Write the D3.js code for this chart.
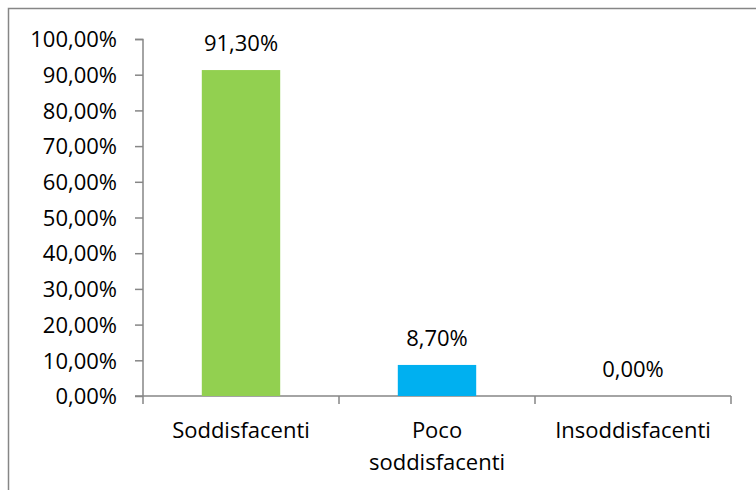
<!DOCTYPE html>
<html>
<head>
<meta charset="utf-8">
<script src="https://cdn.jsdelivr.net/npm/d3@7"></script>
<style>
  body { margin: 0; background: #fff; }
  text { font-family: "Open Sans", "Noto Sans", sans-serif; fill: #000; }
</style>
</head>
<body>
<div class="container"></div>
<script>
const WIDTH = 756;
const HEIGHT = 490;
const FONT = "22px";

var categories = [["Soddisfacenti"], ["Poco", "soddisfacenti"], ["Insoddisfacenti"]];
var values = [91.3, 8.7, 0];
var colors = ["#92D050", "#00B0F0", "#00B0F0"];
var yTicks = [0, 10, 20, 30, 40, 50, 60, 70, 80, 90, 100];

var fmt = function (v) {
    return v.toFixed(2).replace(".", ",") + "%";
};

var svg = d3.select(".container").append("svg")
    .attr("width", WIDTH)
    .attr("height", HEIGHT);

// chart border (only top & left visible in the crop)
svg.append("rect")
    .attr("x", 8.5).attr("y", 8.5)
    .attr("width", 800).attr("height", 600)
    .attr("fill", "none")
    .attr("stroke", "#868686")
    .attr("stroke-width", 1.5);

var xScale = d3.scaleBand()
    .domain(d3.range(categories.length))
    .range([143, 731])
    .paddingInner(0.6)
    .paddingOuter(0.3);

var yScale = d3.scaleLinear()
    .domain([0, 100])
    .range([396, 39]);

// y axis
var yAxis = d3.axisLeft(yScale)
    .tickValues(yTicks)
    .tickSize(8)
    .tickPadding(18)
    .tickFormat(fmt);

var gy = svg.append("g")
    .attr("transform", "translate(143,0)")
    .call(yAxis);
gy.selectAll("line, path").attr("stroke", "#868686").attr("stroke-width", 1.5);
gy.select(".domain").attr("d", "M-8,39.5H0V396");
gy.selectAll("text").style("font-size", FONT).attr("dy", "0.35em");

// x axis
var band = (731 - 143) / categories.length;
var gx = svg.append("g");
gx.append("line")
    .attr("x1", 135).attr("x2", 731)
    .attr("y1", 396).attr("y2", 396)
    .attr("stroke", "#868686").attr("stroke-width", 1.5);
gx.selectAll(".tk").data(d3.range(categories.length + 1))
    .enter().append("line")
    .attr("x1", function (i) { return 143 + i * band; })
    .attr("x2", function (i) { return 143 + i * band; })
    .attr("y1", 396).attr("y2", 404)
    .attr("stroke", "#868686").attr("stroke-width", 1.5);

var labels = gx.selectAll(".cat").data(categories)
    .enter().append("text")
    .attr("text-anchor", "middle")
    .style("font-size", FONT);
labels.each(function (lines, i) {
    var t = d3.select(this);
    lines.forEach(function (l, j) {
        t.append("tspan")
            .attr("x", xScale(i) + xScale.bandwidth() / 2)
            .attr("y", 438 + j * 32)
            .text(l);
    });
});

// bars
svg.append("g").selectAll("rect").data(values)
    .enter().append("rect")
    .attr("x", function (d, i) { return xScale(i); })
    .attr("width", xScale.bandwidth())
    .attr("y", function (d) { return yScale(d); })
    .attr("height", function (d) { return yScale(0) - yScale(d); })
    .attr("fill", function (d, i) { return colors[i]; });

// data labels
svg.append("g").selectAll("text").data(values)
    .enter().append("text")
    .attr("text-anchor", "middle")
    .attr("x", function (d, i) { return xScale(i) + xScale.bandwidth() / 2; })
    .attr("y", function (d) { return yScale(d) - 19; })
    .style("font-size", FONT)
    .text(fmt);
</script>
</body>
</html>
